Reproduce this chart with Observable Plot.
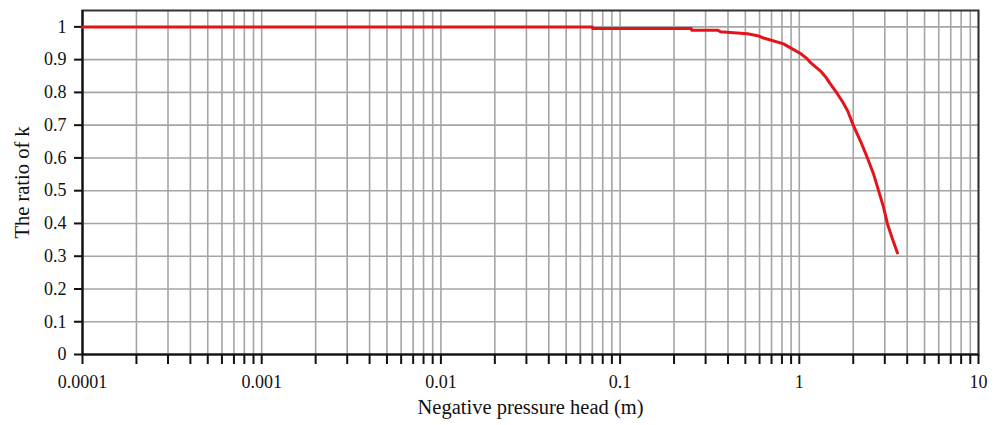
<!DOCTYPE html>
<html>
<head>
<meta charset="utf-8">
<script src="https://cdn.jsdelivr.net/npm/d3@7"></script>
<script src="https://cdn.jsdelivr.net/npm/@observablehq/plot@0.6"></script>
<style>
  html, body { margin: 0; padding: 0; background: #fff; }
  #chart svg { display: block; }
  #chart svg text { font-size: 18px; }
  #chart svg g[aria-label="x-axis label"] text,
  #chart svg g[aria-label="y-axis label"] text { font-size: 20.5px; }
</style>
</head>
<body>
<div id="chart"></div>
<script>
// Curve: negative pressure head (m) vs ratio of k
const head  = [0.0001, 0.07, 0.0701, 0.25, 0.251, 0.35, 0.363, 0.43, 0.514, 0.585, 0.631, 0.69, 0.816, 0.894, 1.02, 1.1, 1.16, 1.31, 1.4, 1.49, 1.63, 1.75, 1.86, 2.0, 2.2, 2.4, 2.6, 2.77, 2.95, 3.1, 3.3, 3.53];
const ratio = [1.0,    1.0,  0.995,  0.995, 0.99, 0.99, 0.985, 0.982, 0.979, 0.973, 0.966, 0.96, 0.948, 0.936, 0.918, 0.904, 0.89, 0.866, 0.848, 0.826, 0.796, 0.77, 0.744, 0.70, 0.65, 0.60, 0.55, 0.50, 0.45, 0.40, 0.355, 0.31];

const decadeLabels = [0.0001, 0.001, 0.01, 0.1, 1, 10];
const minorMultipliers = [1, 2, 3, 4, 5, 6, 7, 8, 9];
const yTickValues = [0, 0.1, 0.2, 0.3, 0.4, 0.5, 0.6, 0.7, 0.8, 0.9, 1];

const xTicks = [];
decadeLabels.slice(0, -1).forEach(d => minorMultipliers.forEach(m => xTicks.push(+(d * m).toPrecision(3))));
xTicks.push(10);

const data = head.map((h, i) => ({h, r: ratio[i]}));
const labelSet = new Set(decadeLabels);

const chart = Plot.plot({
  width: 994,
  height: 425,
  marginLeft: 82,
  marginRight: 16,
  marginTop: 10,
  marginBottom: 71,
  style: {fontFamily: "'Liberation Serif', 'DejaVu Serif', serif", fontSize: "18px", color: "#111", background: "#fff"},
  x: {type: "log", domain: [0.0001, 10]},
  y: {domain: [0, 1.05]},
  marks: [
    Plot.ruleX(xTicks, {stroke: "#a5a5a5", strokeWidth: 1.6}),
    Plot.ruleY(yTickValues.slice(1), {stroke: "#a5a5a5", strokeWidth: 1.6}),
    Plot.frame({stroke: "#333", strokeWidth: 2}),
    Plot.ruleX([0.0001], {stroke: "#111", strokeWidth: 2}),
    Plot.ruleY([0], {stroke: "#111", strokeWidth: 2}),
    Plot.axisX({
      ticks: xTicks,
      tickSize: 10,
      tickPadding: 11,
      stroke: "#111",
      strokeWidth: 2,
      tickFormat: d => labelSet.has(d) ? String(d) : "",
      label: "Negative pressure head (m)",
      labelAnchor: "center",
      labelArrow: "none",
      labelOffset: 59
    }),
    Plot.axisY({
      ticks: yTickValues,
      tickSize: 8,
      tickPadding: 8,
      stroke: "#111",
      strokeWidth: 2,
      tickFormat: d => String(d),
      label: "The ratio of k",
      labelAnchor: "center",
      labelArrow: "none",
      labelOffset: 68
    }),
    Plot.line(data, {x: "h", y: "r", stroke: "#e5141b", strokeWidth: 3, curve: "linear"})
  ]
});
document.getElementById("chart").appendChild(chart);
</script>
</body>
</html>
